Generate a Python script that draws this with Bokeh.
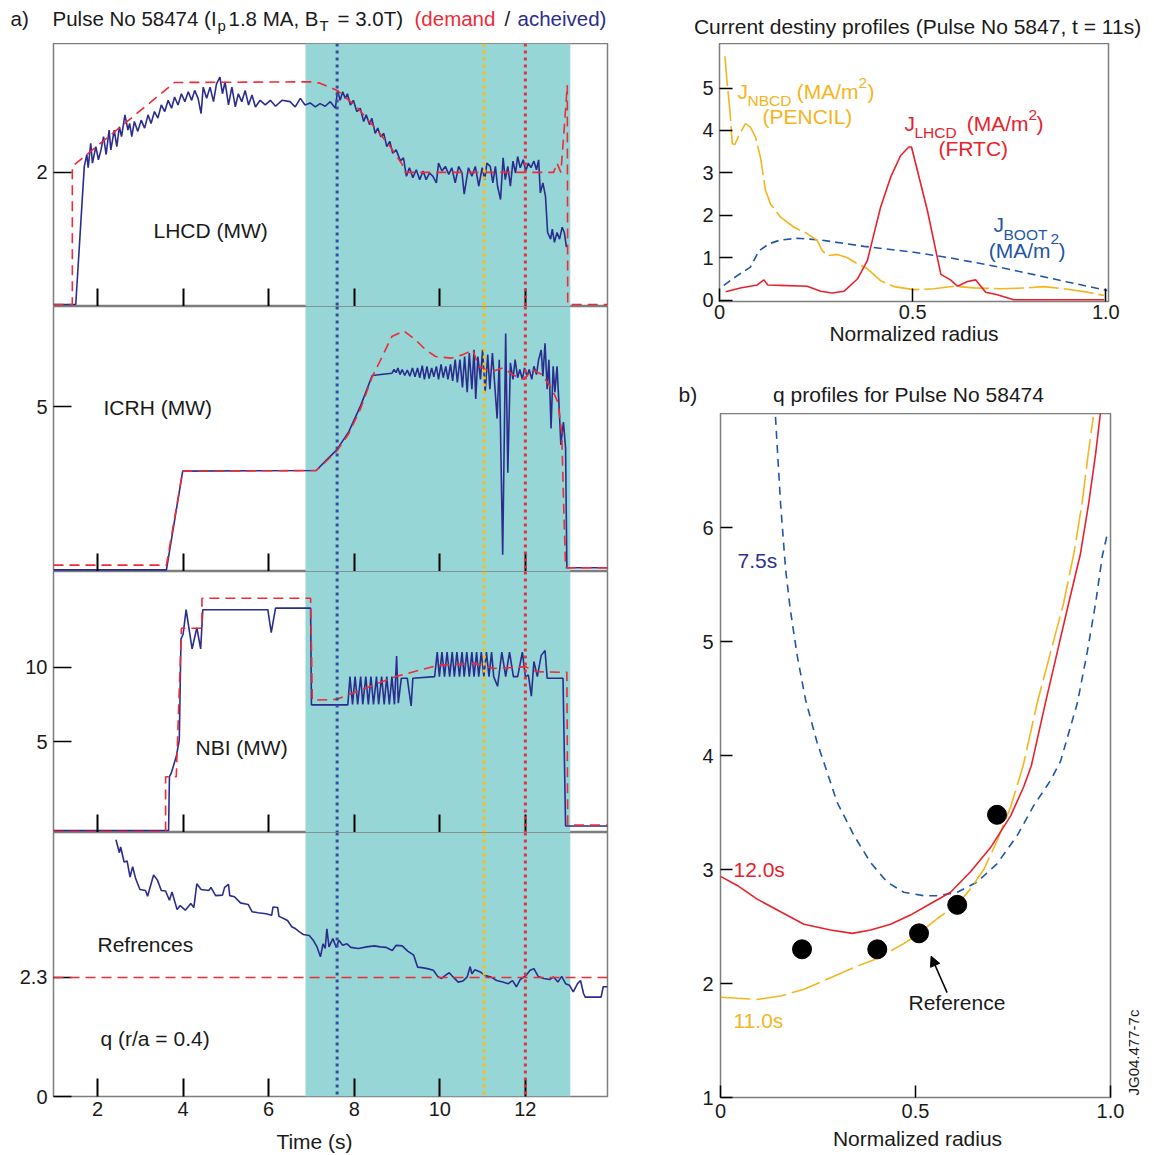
from bokeh.plotting import figure
from bokeh.models import Range1d, FixedTicker, BoxAnnotation, Span, Label, Arrow, NormalHead
from bokeh.layouts import row, column
from bokeh.embed import file_html
from bokeh.resources import INLINE

FONT = "Liberation Sans"
NAVY = "#2B2D8E"
RED = "#EE2B37"
CYAN = "#96D6D6"
YEL = "#F4B51E"
BLUE = "#1F56A6"
RED2 = "#E7222C"
TXT = "#1a1a1a"

# ---------------- data: time traces (left) ----------------
time_ticks = [2, 4, 6, 8, 10, 12]
band_start, band_end = 6.86, 13.05
mark_times = [7.6, 11.04, 12.0]
mark_colors = ["#3B49A3", "#F7C00F", "#E8303C"]

lhcd_dem_t = [0.97, 1.41, 1.41, 3.80, 7.0, 7.2, 7.6, 8.06, 8.53, 8.84,
              9.12, 9.19, 12.66, 12.74, 12.83, 12.9, 12.98, 12.99, 13.92]
lhcd_dem_v = [0.0, 0.0, 2.09, 3.36, 3.37, 3.35, 3.24, 2.99, 2.64, 2.39,
              2.12, 2.0, 2.0, 2.14, 2.0, 2.59, 3.32, 0.0, 0.0]

lhcd_ach_t = [0.97, 1.49, 1.69, 1.75, 1.78, 1.84, 1.88, 1.96, 2.02, 2.08,
              2.14, 2.20, 2.27, 2.31, 2.39, 2.45, 2.51, 2.56, 2.64, 2.71,
              2.75, 2.80, 2.86, 2.94, 3.02, 3.10, 3.18, 3.25, 3.33, 3.41,
              3.49, 3.57, 3.65, 3.73, 3.80, 3.88, 3.96, 4.04, 4.12, 4.20,
              4.27, 4.35, 4.42, 4.47, 4.55, 4.63, 4.71, 4.78, 4.86, 4.92,
              4.98, 5.06, 5.14, 5.22, 5.29, 5.37, 5.45, 5.53, 5.61, 5.69,
              5.80, 5.92, 6.04, 6.16, 6.31, 6.50, 6.62, 6.74, 6.85, 6.97,
              7.09, 7.20, 7.32, 7.44, 7.56, 7.61, 7.67, 7.73, 7.79, 7.84,
              7.91, 7.98, 8.06, 8.14, 8.22, 8.28, 8.36, 8.41, 8.49, 8.55,
              8.62, 8.69, 8.76, 8.83, 8.90, 8.98, 9.08, 9.15, 9.22, 9.29,
              9.37, 9.45, 9.53, 9.61, 9.68, 9.76, 9.84, 9.92, 9.97, 10.05,
              10.13, 10.21, 10.28, 10.36, 10.44, 10.52, 10.57, 10.67, 10.75, 10.83,
              10.91, 10.99, 11.05, 11.10, 11.18, 11.24, 11.30, 11.35, 11.42, 11.48,
              11.53, 11.59, 11.65, 11.71, 11.77, 11.82, 11.88, 11.95, 12.01, 12.07,
              12.13, 12.20, 12.26, 12.31, 12.35, 12.41, 12.47, 12.52, 12.59, 12.63,
              12.68, 12.74, 12.80, 12.86, 12.91, 12.96]
lhcd_ach_v = [0.0, 0.0, 2.09, 2.27, 2.07, 2.44, 2.14, 2.39, 2.19, 2.34,
              2.54, 2.27, 2.64, 2.34, 2.64, 2.39, 2.69, 2.54, 2.87, 2.64,
              2.74, 2.54, 2.77, 2.62, 2.79, 2.67, 2.87, 2.74, 2.92, 2.82,
              3.02, 2.92, 3.09, 2.97, 3.14, 3.02, 3.19, 3.07, 3.22, 3.09,
              3.24, 3.12, 2.89, 3.29, 3.12, 3.29, 3.07, 3.34, 3.44, 3.19,
              3.37, 3.02, 3.29, 2.99, 3.19, 3.07, 3.24, 3.02, 3.17, 2.99,
              3.09, 3.02, 3.09, 3.00, 3.09, 3.07, 2.99, 3.12, 3.02, 3.05,
              2.99, 3.04, 3.00, 3.07, 2.97, 3.24, 3.09, 3.22, 3.12, 3.19,
              3.02, 3.09, 2.92, 2.97, 2.77, 2.87, 2.72, 2.82, 2.59, 2.67,
              2.54, 2.59, 2.39, 2.47, 2.29, 2.34, 2.17, 2.22, 1.94, 2.07,
              1.92, 2.04, 1.89, 2.02, 1.89, 1.99, 1.94, 1.84, 2.14, 2.02,
              2.09, 1.97, 2.07, 1.84, 2.09, 1.99, 1.67, 2.07, 1.94, 2.09,
              1.79, 2.07, 1.89, 2.14, 2.09, 1.84, 2.09, 1.79, 1.59, 2.22,
              1.89, 2.09, 1.79, 2.17, 1.99, 2.24, 2.07, 2.19, 2.02, 2.14,
              2.07, 2.17, 2.04, 2.19, 1.69, 1.84, 1.64, 1.09, 0.99, 1.14,
              0.94, 1.09, 0.99, 1.17, 1.09, 0.87]

icrh_dem_t = [0.97, 3.61, 3.99, 7.11, 7.32, 7.59, 7.87, 8.15, 8.42, 8.60,
              8.88, 9.16, 9.44, 9.67, 9.90, 10.27, 10.54, 10.77, 10.91, 11.19,
              11.47, 11.74, 11.97, 12.16, 12.39, 12.62, 12.76, 12.85, 12.89, 12.94,
              13.92]
icrh_dem_v = [0.0, 0.0, 2.97, 2.99, 3.25, 3.60, 4.15, 4.95, 5.95, 6.44,
              7.22, 7.40, 7.11, 6.80, 6.59, 6.54, 6.65, 6.80, 6.28, 6.10,
              6.23, 5.99, 5.87, 6.18, 6.02, 5.56, 5.15, 4.21, 2.14, -0.08,
              -0.08]

icrh_ach_t = [0.97, 3.61, 3.99, 7.11, 7.32, 7.59, 7.87, 8.15, 8.42, 8.88,
              8.93, 8.98, 9.02, 9.07, 9.12, 9.18, 9.24, 9.30, 9.36, 9.42,
              9.48, 9.53, 9.59, 9.64, 9.70, 9.75, 9.81, 9.86, 9.92, 9.97,
              10.03, 10.08, 10.14, 10.19, 10.25, 10.30, 10.36, 10.41, 10.47, 10.53,
              10.58, 10.64, 10.69, 10.75, 10.80, 10.84, 10.89, 10.95, 11.00, 11.06,
              11.12, 11.17, 11.23, 11.28, 11.34, 11.39, 11.47, 11.54, 11.59, 11.65,
              11.71, 11.76, 11.82, 11.87, 11.93, 11.98, 12.04, 12.09, 12.15, 12.20,
              12.26, 12.31, 12.37, 12.41, 12.46, 12.51, 12.55, 12.60, 12.65, 12.69,
              12.74, 12.78, 12.83, 12.89, 12.94, 12.97, 13.92]
icrh_ach_v = [-0.15, -0.15, 2.97, 2.99, 3.28, 3.64, 4.21, 5.04, 5.99, 6.06,
              6.18, 6.08, 6.23, 6.02, 6.18, 5.99, 6.16, 5.97, 6.23, 5.95,
              6.23, 5.92, 6.30, 5.87, 6.28, 5.89, 6.23, 5.95, 6.28, 5.87,
              6.34, 5.92, 6.28, 5.87, 6.34, 5.82, 6.49, 5.77, 6.49, 5.61,
              6.59, 5.46, 6.70, 5.56, 6.80, 5.25, 6.59, 5.87, 6.80, 5.46,
              6.65, 5.56, 6.70, 5.77, 4.63, 6.49, 0.33, 7.32, 2.92, 6.39,
              5.87, 6.49, 5.92, 6.18, 5.87, 6.23, 5.97, 6.18, 5.87, 6.28,
              6.02, 6.49, 6.80, 5.97, 7.01, 5.56, 6.49, 4.32, 6.28, 5.46,
              6.28, 5.25, 3.80, 4.52, 3.70, -0.08, -0.08]

nbi_dem_t = [0.97, 3.59, 3.59, 3.84, 3.96, 4.44, 4.44, 6.98, 7.02, 7.58,
             8.96, 9.97, 10.80, 11.26, 12.00, 12.28, 12.97, 12.99, 13.92]
nbi_dem_v = [-1.03, -1.03, 2.65, 2.65, 12.63, 12.63, 14.65, 14.65, 7.80, 7.85,
             9.38, 10.15, 10.26, 9.93, 10.04, 9.71, 9.67, -0.60, -0.60]

nbi_ach_t = [0.97, 3.66, 3.68, 3.72, 3.84, 3.91, 3.95, 4.00, 4.07, 4.21,
             4.32, 4.41, 4.46, 5.98, 6.06, 6.16, 6.98, 7.00, 7.85, 7.90,
             7.96, 8.02, 8.08, 8.15, 8.20, 8.27, 8.33, 8.39, 8.45, 8.52,
             8.57, 8.64, 8.70, 8.76, 8.82, 8.88, 8.94, 8.99, 9.03, 9.10,
             9.24, 9.33, 9.37, 9.88, 9.94, 9.99, 10.05, 10.11, 10.17, 10.23,
             10.29, 10.34, 10.40, 10.46, 10.52, 10.57, 10.63, 10.69, 10.75, 10.80,
             10.86, 10.91, 10.97, 11.03, 11.09, 11.15, 11.21, 11.26, 11.35, 11.45,
             11.54, 11.63, 11.72, 11.82, 11.93, 12.00, 12.07, 12.14, 12.20, 12.28,
             12.37, 12.46, 12.51, 12.88, 12.94, 13.92]
nbi_ach_v = [-0.97, -0.97, 2.65, 2.87, 4.01, 5.11, 11.90, 12.23, 13.88, 11.25,
             12.67, 11.25, 13.88, 13.88, 12.34, 13.99, 13.99, 7.48, 7.48, 9.38,
             7.52, 9.38, 7.52, 9.38, 7.52, 9.38, 7.52, 9.38, 7.52, 9.38,
             7.52, 9.38, 7.52, 9.38, 7.52, 9.38, 7.52, 10.76, 7.60, 9.27,
             9.27, 7.41, 9.27, 9.38, 11.03, 9.38, 11.03, 9.38, 11.03, 9.38,
             11.03, 9.38, 11.03, 9.38, 11.03, 9.38, 11.03, 9.38, 11.03, 9.38,
             11.03, 9.38, 11.03, 9.38, 11.03, 9.38, 11.03, 9.38, 8.73, 11.03,
             9.38, 11.03, 9.38, 9.38, 11.03, 9.38, 9.49, 8.07, 10.40, 9.38,
             10.81, 11.14, 9.27, 9.27, -0.66, -0.66]

q_ref_level = 2.3
q_t = [2.43, 2.51, 2.54, 2.62, 2.69, 2.76, 2.82, 2.89, 2.99, 3.12,
       3.17, 3.22, 3.31, 3.40, 3.49, 3.59, 3.68, 3.74, 3.86, 3.93,
       4.05, 4.18, 4.25, 4.32, 4.42, 4.60, 4.65, 4.76, 4.92, 4.97,
       5.06, 5.09, 5.20, 5.34, 5.52, 5.61, 5.75, 5.94, 6.07, 6.10,
       6.21, 6.24, 6.35, 6.44, 6.54, 6.63, 6.72, 6.81, 6.95, 7.04,
       7.13, 7.21, 7.27, 7.32, 7.36, 7.41, 7.50, 7.58, 7.64, 7.73,
       7.83, 7.92, 8.10, 8.29, 8.47, 8.61, 8.75, 8.89, 8.98, 9.12,
       9.25, 9.39, 9.48, 9.58, 9.71, 9.85, 9.95, 10.04, 10.13, 10.22,
       10.31, 10.43, 10.54, 10.64, 10.71, 10.75, 10.82, 10.96, 11.05, 11.19,
       11.33, 11.47, 11.60, 11.70, 11.79, 11.88, 12.02, 12.11, 12.20, 12.30,
       12.43, 12.57, 12.66, 12.76, 12.85, 12.94, 13.03, 13.12, 13.22, 13.29,
       13.36, 13.40, 13.77, 13.82, 13.92]
q_v = [4.96, 4.71, 4.82, 4.53, 4.55, 4.24, 4.44, 4.21, 4.00, 3.98,
       3.87, 4.02, 4.28, 4.18, 3.98, 3.97, 3.79, 3.95, 3.61, 3.69,
       3.60, 3.73, 3.65, 4.11, 4.00, 3.98, 4.04, 3.88, 3.89, 4.04,
       4.10, 3.88, 3.86, 3.74, 3.71, 3.57, 3.55, 3.53, 3.50, 3.66,
       3.65, 3.48, 3.44, 3.40, 3.28, 3.24, 3.18, 3.13, 3.11, 3.02,
       2.89, 2.70, 2.95, 2.86, 3.24, 2.89, 3.05, 2.88, 3.02, 2.92,
       2.95, 2.88, 2.86, 2.89, 2.91, 2.89, 2.88, 2.82, 2.92, 2.91,
       2.81, 2.73, 2.50, 2.49, 2.47, 2.44, 2.32, 2.28, 2.34, 2.39,
       2.31, 2.21, 2.23, 2.31, 2.51, 2.37, 2.45, 2.40, 2.34, 2.31,
       2.24, 2.21, 2.18, 2.24, 2.12, 2.26, 2.34, 2.44, 2.47, 2.32,
       2.28, 2.26, 2.31, 2.21, 2.32, 2.18, 2.15, 2.02, 2.18, 2.24,
       1.99, 1.92, 1.92, 2.12, 2.12]

# ---------------- data: current density profiles (top right) ----------------
jn_r = [0.014, 0.020, 0.027, 0.033, 0.040, 0.050, 0.067, 0.080, 0.093, 0.106,
        0.119, 0.132, 0.158, 0.193, 0.227, 0.253, 0.266, 0.279, 0.305, 0.331,
        0.357, 0.383, 0.417, 0.452, 0.503, 0.555, 0.607, 0.659, 0.728, 0.797,
        0.840, 0.892, 0.952, 0.996]
jn_v = [5.75, 5.10, 4.47, 3.69, 3.67, 3.88, 4.16, 4.08, 3.85, 3.37,
        2.59, 2.27, 1.96, 1.72, 1.57, 1.41, 1.17, 1.05, 1.08, 1.00,
        0.86, 0.74, 0.46, 0.32, 0.25, 0.27, 0.33, 0.29, 0.27, 0.29,
        0.32, 0.27, 0.19, 0.11]
jl_r = [0.016, 0.054, 0.098, 0.115, 0.125, 0.158, 0.227, 0.262, 0.292, 0.322,
        0.357, 0.383, 0.400, 0.417, 0.443, 0.469, 0.490, 0.497, 0.538, 0.573,
        0.598, 0.616, 0.642, 0.663, 0.689, 0.719, 0.762, 0.996]
jl_v = [0.20, 0.29, 0.36, 0.48, 0.36, 0.35, 0.33, 0.21, 0.17, 0.21,
        0.50, 0.94, 1.57, 2.19, 2.90, 3.41, 3.61, 3.61, 2.12, 0.61,
        0.48, 0.33, 0.44, 0.48, 0.19, 0.13, 0.01, 0.01]
jb_r = [0.011, 0.046, 0.080, 0.102, 0.128, 0.158, 0.201, 0.262, 0.374, 0.503,
        0.590, 0.702, 0.806, 0.901, 1.004]
jb_v = [0.35, 0.58, 0.78, 1.16, 1.33, 1.42, 1.46, 1.42, 1.27, 1.13,
        1.01, 0.82, 0.62, 0.43, 0.23]

# ---------------- data: q profiles (bottom right) ----------------
q75_r = [0.141, 0.154, 0.167, 0.179, 0.197, 0.218, 0.248, 0.265, 0.299, 0.342,
         0.385, 0.427, 0.470, 0.521, 0.556, 0.607, 0.658, 0.709, 0.761, 0.803,
         0.846, 0.872, 0.915, 0.940, 0.962, 0.979, 0.993]
q75_v = [6.97, 6.21, 5.63, 5.28, 4.87, 4.49, 4.11, 3.94, 3.59, 3.30,
         3.06, 2.89, 2.80, 2.77, 2.77, 2.80, 2.89, 3.05, 3.30, 3.56,
         3.78, 3.95, 4.46, 4.90, 5.34, 5.75, 5.96]
q12_r = [0.0, 0.043, 0.094, 0.154, 0.214, 0.282, 0.338, 0.385, 0.436, 0.487,
         0.538, 0.590, 0.641, 0.692, 0.744, 0.778, 0.797, 0.833, 0.863, 0.893,
         0.923, 0.944, 0.962, 0.974]
q12_v = [2.94, 2.86, 2.74, 2.63, 2.52, 2.47, 2.44, 2.47, 2.52, 2.60,
         2.70, 2.80, 2.98, 3.19, 3.47, 3.73, 3.91, 4.46, 4.90, 5.34,
         5.77, 6.21, 6.65, 7.00]
q11_r = [0.0, 0.043, 0.094, 0.154, 0.214, 0.282, 0.342, 0.402, 0.470, 0.509,
         0.556, 0.607, 0.641, 0.675, 0.709, 0.744, 0.776, 0.812, 0.846, 0.880,
         0.906, 0.927, 0.943, 0.956]
q11_v = [1.88, 1.87, 1.86, 1.89, 1.95, 2.05, 2.14, 2.22, 2.35, 2.44,
         2.57, 2.69, 2.83, 3.00, 3.25, 3.55, 3.91, 4.46, 4.90, 5.34,
         5.77, 6.21, 6.65, 6.97]
ref_r = [0.209, 0.402, 0.509, 0.607, 0.709]
ref_q = [2.30, 2.30, 2.44, 2.69, 3.48]
ref_arrow_tail = (0.581, 1.92)
ref_arrow_head = (0.540, 2.24)

for a, b in [(lhcd_dem_t, lhcd_dem_v), (lhcd_ach_t, lhcd_ach_v), (icrh_dem_t, icrh_dem_v),
             (icrh_ach_t, icrh_ach_v), (nbi_dem_t, nbi_dem_v), (nbi_ach_t, nbi_ach_v),
             (q_t, q_v), (jn_r, jn_v), (jl_r, jl_v), (jb_r, jb_v), (q75_r, q75_v),
             (q12_r, q12_v), (q11_r, q11_v), (ref_r, ref_q)]:
    assert len(a) == len(b), (len(a), len(b))

# ---------------- layout geometry (page px; page margin is 0) ----------------
XR = (0.97, 13.92)
FR = {
    "f1": (53, 607, 43, 306, XR[0], XR[1], -0.03, 3.95),
    "f2": (53, 607, 306, 571, XR[0], XR[1], -0.2, 8.17),
    "f3": (53, 607, 571, 832, XR[0], XR[1], -1.1, 16.45),
    "f4": (53, 607, 832, 1096, XR[0], XR[1], 0.0, 5.1),
    "g1": (719, 1108, 43, 301, 0.0, 1.007, -0.03, 6.05),
    "g2": (720, 1110, 413, 1097, 0.0, 1.0, 1.0, 7.0),
}


def base_fig(key, w, h, bl, br, bt, bb):
    L, R, T, B, x0, x1, y0, y1 = FR[key]
    p = figure(width=w, height=h, x_range=Range1d(x0, x1), y_range=Range1d(y0, y1),
               output_backend="svg", toolbar_location=None, frame_align=False,
               min_border_left=bl, min_border_right=br, min_border_top=bt, min_border_bottom=bb)
    p.xgrid.visible = False
    p.ygrid.visible = False
    p.outline_line_color = "#7d7d7d"
    p.outline_line_width = 1.5
    p.background_fill_color = "white"
    p.border_fill_color = "white"
    for ax in (p.xaxis[0], p.yaxis[0]):
        ax.axis_line_color = None
        ax.major_tick_out = 0
        ax.minor_tick_out = 0
        ax.minor_tick_in = 0
        ax.minor_tick_line_color = None
        ax.major_tick_line_color = "black"
        ax.major_label_text_font = FONT
        ax.major_label_text_font_size = "20px"
        ax.major_label_text_color = TXT
    return p


def _adj(py, size, baseline, angle):
    # empirical correction: Bokeh places 'alphabetic' text ~0.4em lower than the requested baseline
    if angle == 0 and baseline == "alphabetic":
        return py - 0.4 * float(size.replace("px", ""))
    return py


def lab(p, key, px, py, text, size="21px", color=TXT, align="left", baseline="alphabetic", angle=0):
    L, R, T, B, x0, x1, y0, y1 = FR[key]
    py = _adj(py, size, baseline, angle)
    x = x0 + (px - L) / (R - L) * (x1 - x0)
    y = y1 - (py - T) / (B - T) * (y1 - y0)
    p.add_layout(Label(x=x, y=y, text=text, text_font=FONT, text_font_size=size,
                       text_color=color, text_align=align, text_baseline=baseline,
                       angle=angle, angle_units="deg"))


STRIPS = {}


def strip(name, x_off, y_off, w, h):
    s = figure(width=w, height=h, x_range=Range1d(0, w), y_range=Range1d(h, 0),
               x_axis_location=None, y_axis_location=None, output_backend="svg",
               toolbar_location=None, frame_align=False, min_border_left=0, min_border_right=0,
               min_border_top=0, min_border_bottom=0)
    s.xgrid.visible = False
    s.ygrid.visible = False
    s.outline_line_color = None
    s.background_fill_color = "white"
    s.border_fill_color = "white"
    STRIPS[name] = (s, x_off, y_off)
    return s


def slab(name, px, py, text, size="21px", color=TXT, align="left", baseline="alphabetic", angle=0):
    s, xo, yo = STRIPS[name]
    py = _adj(py, size, baseline, angle)
    s.add_layout(Label(x=px - xo, y=py - yo, text=text, text_font=FONT, text_font_size=size,
                       text_color=color, text_align=align, text_baseline=baseline,
                       angle=angle, angle_units="deg"))


# ---------------- left column ----------------
LW = 648
s_top = strip("s_top", 0, 0, LW, 43)
f1 = base_fig("f1", LW, 263, 53, 41, 0, 0)
f2 = base_fig("f2", LW, 265, 53, 41, 0, 0)
f3 = base_fig("f3", LW, 261, 53, 41, 0, 0)
f4 = base_fig("f4", LW, 298, 53, 41, 0, 34)
s_bot = strip("s_bot", 0, 1130, LW, 25)

for p, yt in [(f1, [2]), (f2, [5]), (f3, [5, 10]), (f4, [0, q_ref_level])]:
    p.add_layout(BoxAnnotation(left=band_start, right=band_end, fill_color=CYAN, fill_alpha=1.0,
                               line_color=None, level="underlay"))
    p.xaxis.ticker = FixedTicker(ticks=time_ticks)
    p.xaxis.major_tick_in = 18
    p.xaxis.major_tick_line_width = 2
    p.yaxis.ticker = FixedTicker(ticks=yt)
    p.yaxis.major_tick_in = 18
    p.yaxis.major_tick_line_width = 1.5
    p.yaxis.major_label_standoff = 6
    if p is not f4:
        p.xaxis.major_label_text_font_size = "0px"
        p.xaxis.major_label_text_color = None
        p.xaxis.major_label_standoff = 0
    else:
        p.xaxis.major_label_standoff = 5

f1.line(lhcd_ach_t, lhcd_ach_v, line_color=NAVY, line_width=1.6)
f1.line(lhcd_dem_t, lhcd_dem_v, line_color=RED, line_width=1.6, line_dash="10 6")
f2.line(icrh_ach_t, icrh_ach_v, line_color=NAVY, line_width=1.6)
f2.line(icrh_dem_t, icrh_dem_v, line_color=RED, line_width=1.6, line_dash="10 6")
f3.line(nbi_ach_t, nbi_ach_v, line_color=NAVY, line_width=1.6)
f3.line(nbi_dem_t, nbi_dem_v, line_color=RED, line_width=1.6, line_dash="10 6")
f4.add_layout(Span(location=q_ref_level, dimension="width", line_color=RED, line_width=1.6, line_dash="10 6"))
f4.line(q_t, q_v, line_color=NAVY, line_width=1.6)

for p in (f1, f2, f3, f4):
    for loc, col in zip(mark_times, mark_colors):
        p.add_layout(Span(location=loc, dimension="height", line_color=col, line_width=3, line_dash="3 4"))

# title pieces
TS = "20.5px"
slab("s_top", 10, 26, "a)", size=TS)
slab("s_top", 52, 26, "Pulse No 58474 (I", size=TS)
slab("s_top", 217, 31, "p", size="15px")
slab("s_top", 228, 26, "1.8 MA, B", size=TS)
slab("s_top", 319, 31, "T", size="15px")
slab("s_top", 337, 26, "= 3.0T)", size=TS)
slab("s_top", 414, 26, "(demand", color=RED, size=TS)
slab("s_top", 504, 26, "/", size=TS)
slab("s_top", 517, 26, "acheived)", color=NAVY, size=TS)

lab(f1, "f1", 153, 238, "LHCD (MW)")
lab(f2, "f2", 103, 415, "ICRH (MW)")
lab(f3, "f3", 195, 755, "NBI (MW)")
lab(f4, "f4", 97, 952, "Refrences")
lab(f4, "f4", 100, 1046, "q (r/a = 0.4)")
slab("s_bot", 314, 1149, "Time (s)", align="center")

# ---------------- right column ----------------
RW = 506
r_top = strip("r_top", 648, 0, RW, 43)
g1 = base_fig("g1", RW, 310, 71, 46, 0, 52)
r_mid = strip("r_mid", 648, 353, RW, 60)
g2 = base_fig("g2", 476, 714, 72, 14, 0, 30)
s_jg = strip("s_jg", 1124, 413, 30, 714)
r_bot = strip("r_bot", 648, 1127, RW, 28)

g1.xaxis.ticker = FixedTicker(ticks=[0, 0.5, 1.0])
g1.xaxis.major_label_overrides = {0: "0", 0.5: "0.5", 1: "1.0"}
g1.xaxis.major_tick_in = 13
g1.xaxis.major_tick_line_width = 1.5
g1.xaxis.major_label_standoff = 3
g1.xaxis.axis_label = "Normalized radius"
g1.xaxis.axis_label_text_font = FONT
g1.xaxis.axis_label_text_font_size = "21px"
g1.xaxis.axis_label_text_font_style = "normal"
g1.xaxis.axis_label_text_color = TXT
g1.xaxis.axis_label_standoff = 0
g1.yaxis.ticker = FixedTicker(ticks=[0, 1, 2, 3, 4, 5])
g1.yaxis.major_tick_in = 13
g1.yaxis.major_tick_line_width = 1.5
g1.yaxis.major_label_standoff = 6

g1.line(jb_r, jb_v, line_color=BLUE, line_width=1.6, line_dash="8 5")
g1.line(jn_r, jn_v, line_color=YEL, line_width=1.6, line_dash="30 5")
g1.line(jl_r, jl_v, line_color=RED2, line_width=1.6)

SUB = "15.5px"
slab("r_top", 917, 34, "Current destiny profiles (Pulse No 5847, t = 11s)", align="center")
lab(g1, "g1", 737, 99, "J", color=YEL)
lab(g1, "g1", 747, 106, "NBCD", size=SUB, color=YEL)
lab(g1, "g1", 858, 99, "(MA/m", color=YEL, align="right")
lab(g1, "g1", 858, 89, "2", size=SUB, color=YEL)
lab(g1, "g1", 867, 99, ")", color=YEL)
lab(g1, "g1", 762, 124, "(PENCIL)", color=YEL)
lab(g1, "g1", 904, 131, "J", color=RED2)
lab(g1, "g1", 914, 138, "LHCD", size=SUB, color=RED2)
lab(g1, "g1", 1028, 131, "(MA/m", color=RED2, align="right")
lab(g1, "g1", 1028, 121, "2", size=SUB, color=RED2)
lab(g1, "g1", 1036, 131, ")", color=RED2)
lab(g1, "g1", 938, 156, "(FRTC)", color=RED2)
lab(g1, "g1", 993, 232, "J", color=BLUE)
lab(g1, "g1", 1003, 240, "BOOT", size=SUB, color=BLUE)
lab(g1, "g1", 1050, 258, "(MA/m", color=BLUE, align="right")
lab(g1, "g1", 1050, 245, "2", size=SUB, color=BLUE)
lab(g1, "g1", 1058, 258, ")", color=BLUE)

g2.xaxis.ticker = FixedTicker(ticks=[0, 0.5, 1.0])
g2.xaxis.major_label_overrides = {0: "0", 0.5: "0.5", 1: "1.0"}
g2.xaxis.major_tick_in = 12
g2.xaxis.major_tick_line_width = 1.5
g2.xaxis.major_label_standoff = 6
g2.yaxis.ticker = FixedTicker(ticks=[1, 2, 3, 4, 5, 6])
g2.yaxis.major_tick_in = 12
g2.yaxis.major_tick_line_width = 1.5
g2.yaxis.major_label_standoff = 7

g2.line(q75_r, q75_v, line_color=BLUE, line_width=1.6, line_dash="8 6")
g2.line(q11_r, q11_v, line_color=YEL, line_width=1.6, line_dash="30 6")
g2.line(q12_r, q12_v, line_color=RED2, line_width=1.6)
g2.scatter(ref_r, ref_q, size=19, color="black")
g2.add_layout(Arrow(x_start=ref_arrow_tail[0], y_start=ref_arrow_tail[1],
                    x_end=ref_arrow_head[0], y_end=ref_arrow_head[1], line_width=1.5,
                    end=NormalHead(size=10, fill_color="black", line_color="black")))

slab("r_mid", 678, 402, "b)")
slab("r_mid", 908, 402, "q profiles for Pulse No 58474", align="center")
lab(g2, "g2", 737, 568, "7.5s", color="#2E3192")
lab(g2, "g2", 733, 877, "12.0s", color=RED2)
lab(g2, "g2", 733, 1028, "11.0s", color=YEL)
lab(g2, "g2", 908, 1010, "Reference")
slab("r_bot", 917, 1146, "Normalized radius", align="center")
slab("s_jg", 1133, 1095, "JG04.477-7c", size="15px", angle=90, baseline="middle")

left = column(s_top, f1, f2, f3, f4, s_bot)
right = column(r_top, g1, r_mid, row(g2, s_jg), r_bot)
layout = row(left, right)
open("out.html", "w").write(file_html(layout, INLINE))
